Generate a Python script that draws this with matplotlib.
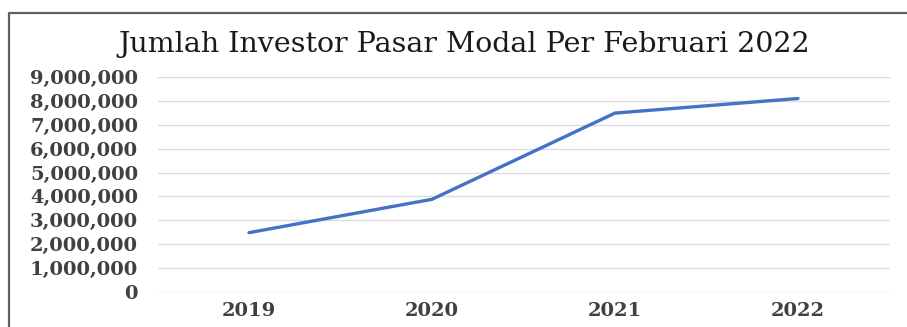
import matplotlib
matplotlib.use("Agg")
import matplotlib.pyplot as plt
from matplotlib.lines import Line2D
from matplotlib.ticker import FuncFormatter

years = ["2019", "2020", "2021", "2022"]
investors = [2484354, 3880753, 7489337, 8100000]
yticks = list(range(0, 9000001, 1000000))
title = "Jumlah Investor Pasar Modal Per Februari 2022"

W, H = 907, 327
fig = plt.figure(figsize=(W / 100, H / 100), dpi=100)
fig.patch.set_facecolor("white")

ax = fig.add_axes([157.5 / W, 1 - 292 / H, (889.5 - 157.5) / W, (292 - 77) / H])
x = list(range(len(years)))
ax.plot(x, investors, color="#4472C4", linewidth=2.4, solid_capstyle="round", zorder=3)
ax.set_xlim(-0.5, len(years) - 0.5)
ax.set_ylim(0, 9000000)
ax.set_yticks(yticks)
ax.yaxis.set_major_formatter(FuncFormatter(lambda v, p: f"{int(v):,}"))
ax.set_xticks(x)
ax.set_xticklabels(years)
ax.grid(axis="y", color="#dcdcdc", linewidth=1.0)
ax.set_axisbelow(True)
for s in ax.spines.values():
    s.set_visible(False)
ax.tick_params(axis="both", length=0)
ax.tick_params(axis="y", pad=14)
ax.tick_params(axis="x", pad=7)
for lab in ax.get_yticklabels() + ax.get_xticklabels():
    lab.set_fontfamily("DejaVu Serif")
    lab.set_fontweight("bold")
    lab.set_fontsize(14)
    lab.set_color("#404040")

fig.text(464 / W, 1 - 44 / H, title, ha="center", va="center",
         fontfamily="DejaVu Serif", fontsize=20.5, color="#1a1a1a")

# outer frame (left and top edges visible)
fig.add_artist(Line2D([9 / W, 9 / W, 1.0], [0.0, 1 - 13 / H, 1 - 13 / H],
                      transform=fig.transFigure, color="#606060", linewidth=1.6))

fig.savefig("out.png", dpi=100, facecolor="white")
